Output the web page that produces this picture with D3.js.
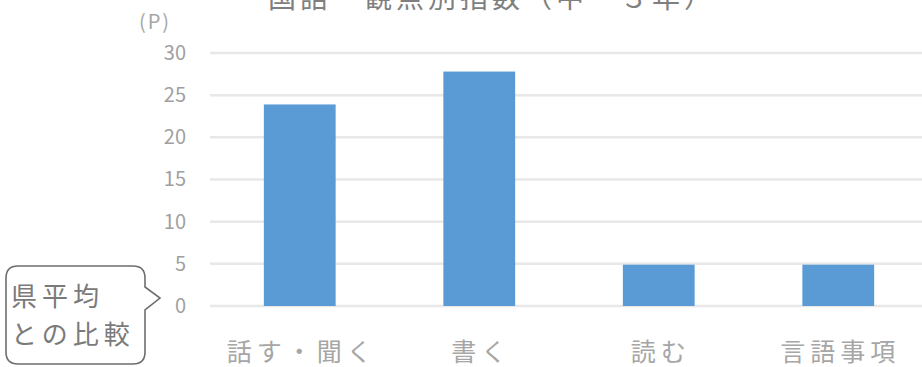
<!DOCTYPE html>
<html>
<head>
<meta charset="utf-8">
<script src="https://cdn.jsdelivr.net/npm/d3@7"></script>
<style>
  html, body { margin: 0; padding: 0; background: #fff; }
  svg { display: block; font-family: "Noto Sans CJK JP", "Noto Sans", sans-serif; }
</style>
</head>
<body>
<svg id="chart" width="922" height="367"></svg>
<script>
// 観点別指数（県平均との比較）
const categories = ["話す・聞く", "書く", "読む", "言語事項"];
const values = [23.9, 27.8, 4.9, 4.9];
const yTicks = [0, 5, 10, 15, 20, 25, 30];
const titleText = "国語　観点別指数（中　３年）";
const unitText = "(P)";
const calloutLines = ["県平均", "との比較"];

const svg = d3.select("#chart");
const W = 922, H = 367;

const x = d3.scaleBand()
  .domain(categories)
  .range([210, 928])
  .paddingInner(0.6)
  .paddingOuter(0.3);

const y = d3.scaleLinear()
  .domain([0, 30])
  .range([306, 53]);

// gridlines
svg.append("g")
  .selectAll("line")
  .data(yTicks)
  .join("line")
  .attr("x1", 210)
  .attr("x2", W)
  .attr("y1", d => y(d))
  .attr("y2", d => y(d))
  .attr("stroke", "#e8e8e8")
  .attr("stroke-width", 2.5);

// y axis labels
const yAxis = d3.axisLeft(y).tickValues(yTicks).tickSize(0).tickPadding(0);
const gy = svg.append("g").attr("transform", "translate(186,0)").call(yAxis);
gy.select(".domain").remove();
gy.selectAll("text")
  .attr("fill", "#a0a0a0")
  .style("font-size", "20px")
  .style("font-family", "\"Noto Sans CJK JP\", sans-serif");

// bars
svg.append("g")
  .selectAll("rect")
  .data(categories)
  .join("rect")
  .attr("x", d => x(d))
  .attr("width", x.bandwidth())
  .attr("y", (d, i) => y(values[i]))
  .attr("height", (d, i) => y(0) - y(values[i]))
  .attr("fill", "#5b9bd5");

// x axis labels
const xAxis = d3.axisBottom(x).tickSize(0).tickPadding(0);
const gx = svg.append("g").attr("transform", "translate(0,352)").call(xAxis);
gx.select(".domain").remove();
gx.selectAll("text")
  .attr("dy", "0.35em")
  .attr("dx", "2px")
  .attr("fill", "#a6a6a6")
  .style("font-size", "25px")
  .style("letter-spacing", "5px")
  .style("font-family", "\"Noto Sans CJK JP\", sans-serif");

// title (partly above the top edge)
svg.append("text")
  .attr("x", 492)
  .attr("y", -2)
  .attr("dy", "0.35em")
  .attr("text-anchor", "middle")
  .attr("fill", "#7f7f7f")
  .style("font-size", "28px")
  .style("letter-spacing", "4px")
  .text(titleText);

// unit label
svg.append("text")
  .attr("x", 155)
  .attr("y", 22)
  .attr("dy", "0.35em")
  .attr("text-anchor", "middle")
  .attr("fill", "#a6a6a6")
  .style("font-size", "20px")
  .style("letter-spacing", "2px")
  .text(unitText);

// callout box with pointer
const bx0 = 6, bx1 = 145, by0 = 266, by1 = 364, r = 12;
const p = d3.path();
p.moveTo(bx0 + r, by0);
p.lineTo(bx1 - r, by0);
p.quadraticCurveTo(bx1, by0, bx1, by0 + r);
p.lineTo(bx1, 287);
p.lineTo(160, 298);
p.lineTo(bx1, 310);
p.lineTo(bx1, by1 - r);
p.quadraticCurveTo(bx1, by1, bx1 - r, by1);
p.lineTo(bx0 + r, by1);
p.quadraticCurveTo(bx0, by1, bx0, by1 - r);
p.lineTo(bx0, by0 + r);
p.quadraticCurveTo(bx0, by0, bx0 + r, by0);
p.closePath();
svg.append("path")
  .attr("d", p.toString())
  .attr("fill", "#fff")
  .attr("stroke", "#6e6e6e")
  .attr("stroke-width", 1.6);

svg.append("g")
  .selectAll("text")
  .data(calloutLines)
  .join("text")
  .attr("x", 11)
  .attr("y", (d, i) => 297 + i * 38)
  .attr("dy", "0.35em")
  .attr("fill", "#7a7a7a")
  .style("font-size", "26px")
  .style("letter-spacing", "5px")
  .text(d => d);
</script>
</body>
</html>
